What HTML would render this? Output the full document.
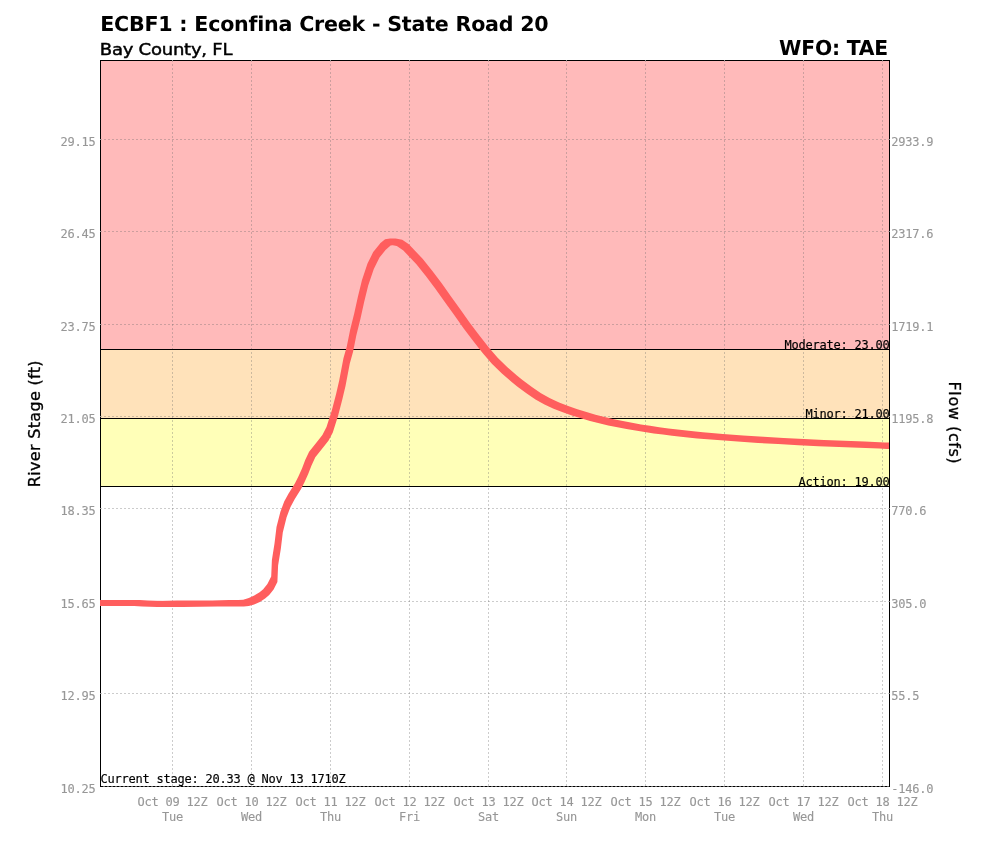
<!DOCTYPE html>
<html lang="en"><head><meta charset="utf-8"><title>ECBF1 : Econfina Creek - State Road 20</title>
<style>
html,body{margin:0;padding:0;background:#fff;}
body{width:989px;height:846px;overflow:hidden;position:relative;}
svg{display:block;position:absolute;left:0;top:0;}
text{font-family:"DejaVu Sans Mono","Liberation Mono",monospace;font-size:12px;letter-spacing:-0.225px;}
.t{font-family:"DejaVu Sans","Liberation Sans",sans-serif;font-weight:bold;font-size:20.5px;fill:#000;text-rendering:geometricPrecision;}
.s{font-family:"DejaVu Sans","Liberation Sans",sans-serif;font-size:16px;fill:#000;stroke:#000;stroke-width:0.45px;}
.r{font-family:"DejaVu Sans","Liberation Sans",sans-serif;font-size:16px;fill:#000;stroke:#000;stroke-width:0.3px;}
.a{fill:#979797;stroke:#979797;stroke-width:0.12px;}
.k{fill:#000;stroke:#000;stroke-width:0.15px;}
.g{stroke:rgba(105,105,105,0.34);stroke-width:1;stroke-dasharray:2 2;fill:none;shape-rendering:crispEdges;}
.b{stroke:#000;stroke-width:1;fill:none;shape-rendering:crispEdges;}
</style></head><body>
<svg width="989" height="846" viewBox="0 0 989 846">
<rect x="0" y="0" width="989" height="846" fill="#fff"/>
<rect x="101" y="61" width="788" height="288" fill="#ffbaba"/>
<rect x="101" y="349" width="788" height="69" fill="#ffe2ba"/>
<rect x="101" y="418" width="788" height="68" fill="#ffffb8"/>
<rect class="b" x="100.5" y="60.5" width="789" height="726"/>
<line class="g" x1="103" y1="786.5" x2="889" y2="786.5"/>
<line class="g" x1="100" y1="693.5" x2="889" y2="693.5"/>
<line class="g" x1="100" y1="601.5" x2="889" y2="601.5"/>
<line class="g" x1="100" y1="508.5" x2="889" y2="508.5"/>
<line class="g" x1="100" y1="416.5" x2="889" y2="416.5"/>
<line class="g" x1="100" y1="324.5" x2="889" y2="324.5"/>
<line class="g" x1="100" y1="231.5" x2="889" y2="231.5"/>
<line class="g" x1="100" y1="139.5" x2="889" y2="139.5"/>
<line class="g" x1="172.5" y1="60" x2="172.5" y2="786"/>
<line class="g" x1="251.5" y1="60" x2="251.5" y2="786"/>
<line class="g" x1="330.5" y1="60" x2="330.5" y2="786"/>
<line class="g" x1="409.5" y1="60" x2="409.5" y2="786"/>
<line class="g" x1="488.5" y1="60" x2="488.5" y2="786"/>
<line class="g" x1="566.5" y1="60" x2="566.5" y2="786"/>
<line class="g" x1="645.5" y1="60" x2="645.5" y2="786"/>
<line class="g" x1="724.5" y1="60" x2="724.5" y2="786"/>
<line class="g" x1="803.5" y1="60" x2="803.5" y2="786"/>
<line class="g" x1="882.5" y1="60" x2="882.5" y2="786"/>
<line x1="103" y1="786.5" x2="889" y2="786.5" stroke="rgba(255,255,255,0.3)" stroke-width="1" stroke-dasharray="2 2" shape-rendering="crispEdges"/>
<path d="M172,60h1v1h-1zM251,60h1v1h-1zM330,60h1v1h-1zM409,60h1v1h-1zM488,60h1v1h-1zM566,60h1v1h-1zM645,60h1v1h-1zM724,60h1v1h-1zM803,60h1v1h-1zM882,60h1v1h-1zM100,693h1v1h-1zM889,693h1v1h-1zM100,601h1v1h-1zM889,601h1v1h-1zM100,508h1v1h-1zM889,508h1v1h-1zM100,416h1v1h-1zM889,416h1v1h-1zM100,324h1v1h-1zM889,324h1v1h-1zM100,231h1v1h-1zM889,231h1v1h-1zM100,139h1v1h-1zM889,139h1v1h-1z" fill="rgba(255,255,255,0.5)" shape-rendering="crispEdges"/>
<line class="b" x1="100" y1="349.5" x2="890" y2="349.5"/>
<line class="b" x1="100" y1="418.5" x2="890" y2="418.5"/>
<line class="b" x1="100" y1="486.5" x2="890" y2="486.5"/>
<text class="k" x="889.5" y="349" text-anchor="end">Moderate: 23.00</text>
<text class="k" x="889.5" y="418" text-anchor="end">Minor: 21.00</text>
<text class="k" x="889.5" y="486" text-anchor="end">Action: 19.00</text>
<clipPath id="cp"><rect x="100" y="60" width="789" height="727"/></clipPath>
<g clip-path="url(#cp)"><path fill="#ff5e5e" d="M96.8,600.2 97.2,599.9 139.8,599.9 140.2,600.2 140.2,605.8 139.8,606.1 97.2,606.1 96.8,605.8ZM133.8,600.2 134.2,599.9 139.8,599.9 147.8,600.4 148.2,600.8 148.2,606.2 147.8,606.6 142.2,606.6 134.2,606.1 133.8,605.8ZM141.8,600.8 142.2,600.4 147.8,600.4 162.8,600.9 163.2,601.2 163.2,606.8 162.8,607.1 157.2,607.1 142.2,606.6 141.8,606.2ZM156.8,601.2 157.2,600.9 177.2,600.6 182.8,600.6 183.2,601.0 183.2,606.5 182.8,606.9 162.8,607.1 157.2,607.1 156.8,606.8ZM176.8,601.0 177.2,600.6 212.2,600.4 217.8,600.4 218.2,600.8 218.2,606.2 217.8,606.6 182.8,606.9 177.2,606.9 176.8,606.5ZM211.8,600.8 212.2,600.4 229.2,600.1 234.8,600.1 235.2,600.5 235.2,606.0 234.8,606.4 217.8,606.6 212.2,606.6 211.8,606.2ZM228.8,600.5 229.2,600.1 243.8,600.1 244.2,600.5 244.2,606.0 243.8,606.4 229.2,606.4 228.8,606.0ZM237.8,600.5 238.2,600.1 243.2,599.8 248.8,599.8 249.2,600.1 249.2,605.6 248.8,606.0 243.8,606.4 238.2,606.4 237.8,606.0ZM242.8,600.1 243.2,599.8 248.8,598.1 254.2,598.1 254.7,598.5 254.7,604.0 254.2,604.4 248.8,606.0 243.2,606.0 242.8,605.6ZM248.3,598.5 248.8,598.1 254.2,595.6 259.8,595.6 260.1,596.0 260.1,601.5 259.8,601.9 254.2,604.4 248.8,604.4 248.3,604.0ZM253.8,596.0 254.2,595.6 259.6,592.2 265.1,592.2 265.4,592.6 265.4,598.1 265.1,598.5 259.8,601.9 254.2,601.9 253.8,601.5ZM259.2,592.6 259.6,592.2 263.8,588.8 269.2,588.8 269.6,589.1 269.6,594.6 269.2,595.0 265.1,598.5 259.6,598.5 259.2,598.1ZM263.4,589.1 267.4,584.0 267.8,583.6 273.2,583.6 273.6,584.0 273.6,589.5 269.6,594.6 269.2,595.0 263.8,595.0 263.4,594.6ZM267.4,584.0 271.2,576.5 271.6,576.1 277.1,576.1 277.4,576.5 277.4,582.0 273.6,589.5 273.2,589.9 267.8,589.9 267.4,589.5ZM271.2,576.5 271.9,560.0 272.2,559.6 277.8,559.6 278.1,560.0 278.1,565.5 277.4,582.0 277.1,582.4 271.6,582.4 271.2,582.0ZM271.9,560.0 274.5,543.5 274.9,543.1 280.4,543.1 280.8,543.5 280.8,549.0 278.1,565.5 277.8,565.9 272.2,565.9 271.9,565.5ZM274.5,543.5 276.5,527.0 276.9,526.6 282.4,526.6 282.8,527.0 282.8,532.5 280.8,549.0 280.4,549.4 274.9,549.4 274.5,549.0ZM276.5,527.0 280.4,511.8 280.8,511.4 286.2,511.4 286.6,511.8 286.6,517.2 282.8,532.5 282.4,532.9 276.9,532.9 276.5,532.5ZM280.4,511.8 284.2,501.4 284.6,501.1 290.1,501.1 290.5,501.4 290.5,506.9 286.6,517.2 286.2,517.6 280.8,517.6 280.4,517.2ZM284.2,501.4 288.6,493.4 288.9,493.1 294.4,493.1 294.8,493.4 294.8,498.9 290.5,506.9 290.1,507.3 284.6,507.3 284.2,506.9ZM288.6,493.4 295.0,483.2 295.4,482.9 300.9,482.9 301.2,483.2 301.2,488.8 294.8,498.9 294.4,499.3 288.9,499.3 288.6,498.9ZM295.0,483.2 298.4,476.6 298.8,476.2 304.2,476.2 304.6,476.6 304.6,482.1 301.2,488.8 300.9,489.1 295.4,489.1 295.0,488.8ZM298.4,476.6 302.0,468.4 302.4,468.0 307.9,468.0 308.2,468.4 308.2,473.9 304.6,482.1 304.2,482.4 298.8,482.4 298.4,482.1ZM302.0,468.4 305.2,460.1 305.6,459.7 311.1,459.7 311.5,460.1 311.5,465.6 308.2,473.9 307.9,474.2 302.4,474.2 302.0,473.9ZM305.2,460.1 309.1,451.8 309.4,451.4 314.9,451.4 315.3,451.8 315.3,457.2 311.5,465.6 311.1,465.9 305.6,465.9 305.2,465.6ZM309.1,451.8 315.7,443.4 316.1,443.1 321.6,443.1 321.9,443.4 321.9,448.9 315.3,457.2 314.9,457.6 309.4,457.6 309.1,457.2ZM315.7,443.4 322.4,435.1 322.8,434.8 328.2,434.8 328.6,435.1 328.6,440.6 321.9,448.9 321.6,449.3 316.1,449.3 315.7,448.9ZM322.4,435.1 326.5,426.9 326.9,426.6 332.4,426.6 332.8,426.9 332.8,432.4 328.6,440.6 328.2,441.0 322.8,441.0 322.4,440.6ZM326.5,426.9 331.8,410.4 332.1,410.0 337.6,410.0 338.0,410.4 338.0,415.9 332.8,432.4 332.4,432.8 326.9,432.8 326.5,432.4ZM331.8,410.4 336.1,393.9 336.4,393.5 341.9,393.5 342.3,393.9 342.3,399.4 338.0,415.9 337.6,416.2 332.1,416.2 331.8,415.9ZM336.1,393.9 339.2,380.6 339.6,380.2 345.1,380.2 345.5,380.6 345.5,386.1 342.3,399.4 341.9,399.8 336.4,399.8 336.1,399.4ZM339.2,380.6 343.5,358.1 343.9,357.7 349.4,357.7 349.8,358.1 349.8,363.6 345.5,386.1 345.1,386.4 339.6,386.4 339.2,386.1ZM343.5,358.1 346.8,346.4 347.1,346.1 352.6,346.1 353.0,346.4 353.0,351.9 349.8,363.6 349.4,363.9 343.9,363.9 343.5,363.6ZM346.8,346.4 350.1,329.9 350.4,329.5 355.9,329.5 356.3,329.9 356.3,335.4 353.0,351.9 352.6,352.3 347.1,352.3 346.8,351.9ZM350.1,329.9 354.2,313.4 354.6,313.0 360.1,313.0 360.4,313.4 360.4,318.9 356.3,335.4 355.9,335.8 350.4,335.8 350.1,335.4ZM354.2,313.4 357.9,296.8 358.2,296.4 363.8,296.4 364.1,296.8 364.1,302.2 360.4,318.9 360.1,319.2 354.6,319.2 354.2,318.9ZM357.9,296.8 362.0,280.1 362.4,279.8 367.9,279.8 368.2,280.1 368.2,285.6 364.1,302.2 363.8,302.6 358.2,302.6 357.9,302.2ZM362.0,280.1 367.5,263.6 367.9,263.2 373.4,263.2 373.8,263.6 373.8,269.1 368.2,285.6 367.9,286.0 362.4,286.0 362.0,285.6ZM367.5,263.6 373.2,252.1 373.6,251.7 379.1,251.7 379.5,252.1 379.5,257.6 373.8,269.1 373.4,269.5 367.9,269.5 367.5,269.1ZM373.2,252.1 379.9,243.8 380.2,243.3 385.8,243.3 386.1,243.8 386.1,249.2 379.5,257.6 379.1,257.9 373.6,257.9 373.2,257.6ZM379.9,243.8 380.2,243.3 385.1,239.2 390.6,239.2 391.0,239.7 391.0,245.2 390.6,245.6 385.8,249.7 380.2,249.7 379.9,249.2ZM384.8,239.7 385.1,239.2 390.1,238.4 395.6,238.4 396.0,238.8 396.0,244.3 395.6,244.8 390.6,245.6 385.1,245.6 384.8,245.2ZM389.8,238.8 390.1,238.4 395.6,238.4 402.2,239.8 402.6,240.2 402.6,245.7 402.2,246.1 396.8,246.1 390.1,244.8 389.8,244.3ZM396.4,240.2 396.8,239.8 402.2,239.8 408.9,244.2 409.3,244.7 409.3,250.2 408.9,250.6 403.4,250.6 396.8,246.1 396.4,245.7ZM403.1,244.7 403.4,244.2 408.9,244.2 409.3,244.7 413.1,248.7 413.1,254.2 412.8,254.6 407.2,254.6 406.9,254.2 403.1,250.2ZM406.9,248.7 407.2,248.2 412.8,248.2 413.1,248.7 422.6,258.8 422.6,264.2 422.2,264.6 416.8,264.6 416.4,264.2 406.9,254.2ZM416.4,258.8 416.8,258.4 422.2,258.4 422.6,258.8 432.0,270.4 432.0,275.9 431.6,276.2 426.1,276.2 425.8,275.9 416.4,264.2ZM425.8,270.4 426.1,270.0 431.6,270.0 432.0,270.4 441.5,283.1 441.5,288.6 441.1,288.9 435.6,288.9 435.2,288.6 425.8,275.9ZM435.2,283.1 435.6,282.7 441.1,282.7 441.5,283.1 451.0,296.4 451.0,301.9 450.6,302.2 445.1,302.2 444.8,301.9 435.2,288.6ZM444.8,296.4 445.1,296.0 450.6,296.0 451.0,296.4 460.4,309.6 460.4,315.1 460.1,315.5 454.6,315.5 454.2,315.1 444.8,301.9ZM454.2,309.6 454.6,309.2 460.1,309.2 460.4,309.6 469.9,322.9 469.9,328.4 469.6,328.8 464.1,328.8 463.7,328.4 454.2,315.1ZM463.7,322.9 464.1,322.6 469.6,322.6 469.9,322.9 479.4,335.6 479.4,341.1 479.1,341.5 473.6,341.5 473.2,341.1 463.7,328.4ZM473.2,335.6 473.6,335.2 479.1,335.2 479.4,335.6 488.8,347.4 488.8,352.9 488.4,353.3 482.9,353.3 482.6,352.9 473.2,341.1ZM482.6,347.4 482.9,347.1 488.4,347.1 488.8,347.4 498.3,358.4 498.3,363.9 497.9,364.2 492.4,364.2 492.1,363.9 482.6,352.9ZM492.1,358.4 492.4,358.0 497.9,358.0 507.4,367.2 507.8,367.6 507.8,373.1 507.4,373.5 501.9,373.5 492.4,364.2 492.1,363.9ZM501.5,367.6 501.9,367.2 507.4,367.2 516.9,375.6 517.2,375.9 517.2,381.4 516.9,381.8 511.4,381.8 501.9,373.5 501.5,373.1ZM511.0,375.9 511.4,375.6 516.9,375.6 522.8,380.2 523.1,380.6 523.1,386.1 522.8,386.5 517.2,386.5 511.4,381.8 511.0,381.4ZM516.9,380.6 517.2,380.2 522.8,380.2 531.9,387.1 532.2,387.4 532.2,392.9 531.9,393.3 526.4,393.3 517.2,386.5 516.9,386.1ZM526.0,387.4 526.4,387.1 531.9,387.1 541.0,393.2 541.4,393.6 541.4,399.1 541.0,399.4 535.5,399.4 526.4,393.3 526.0,392.9ZM535.1,393.6 535.5,393.2 541.0,393.2 550.0,398.2 550.4,398.6 550.4,404.1 550.0,404.5 544.5,404.5 535.5,399.4 535.1,399.1ZM544.1,398.6 544.5,398.2 550.0,398.2 559.1,402.5 559.5,402.9 559.5,408.4 559.1,408.8 553.6,408.8 544.5,404.5 544.1,404.1ZM553.2,402.9 553.6,402.5 559.1,402.5 568.2,406.0 568.6,406.4 568.6,411.9 568.2,412.2 562.8,412.2 553.6,408.8 553.2,408.4ZM562.4,406.4 562.8,406.0 568.2,406.0 577.4,409.2 577.8,409.6 577.8,415.1 577.4,415.4 571.9,415.4 562.8,412.2 562.4,411.9ZM571.5,409.6 571.9,409.2 577.4,409.2 586.5,412.0 586.9,412.4 586.9,417.9 586.5,418.2 581.0,418.2 571.9,415.4 571.5,415.1ZM580.6,412.4 581.0,412.0 586.5,412.0 595.5,414.7 595.9,415.1 595.9,420.6 595.5,420.9 590.0,420.9 581.0,418.2 580.6,417.9ZM589.6,415.1 590.0,414.7 595.5,414.7 604.6,417.1 605.0,417.4 605.0,422.9 604.6,423.3 599.1,423.3 590.0,420.9 589.6,420.6ZM598.8,417.4 599.1,417.1 604.6,417.1 613.8,419.2 614.1,419.6 614.1,425.1 613.8,425.4 608.2,425.4 599.1,423.3 598.8,422.9ZM607.9,419.6 608.2,419.2 613.8,419.2 622.9,421.1 623.2,421.4 623.2,426.9 622.9,427.3 617.4,427.3 608.2,425.4 607.9,425.1ZM617.0,421.4 617.4,421.1 622.9,421.1 632.0,422.8 632.4,423.1 632.4,428.6 632.0,429.0 626.5,429.0 617.4,427.3 617.0,426.9ZM626.1,423.1 626.5,422.8 632.0,422.8 641.0,424.4 641.4,424.8 641.4,430.2 641.0,430.6 635.5,430.6 626.5,429.0 626.1,428.6ZM635.1,424.8 635.5,424.4 641.0,424.4 650.1,425.8 650.5,426.1 650.5,431.6 650.1,432.0 644.6,432.0 635.5,430.6 635.1,430.2ZM644.2,426.1 644.6,425.8 650.1,425.8 659.2,427.2 659.6,427.6 659.6,433.1 659.2,433.4 653.8,433.4 644.6,432.0 644.2,431.6ZM653.4,427.6 653.8,427.2 659.2,427.2 668.4,428.4 668.8,428.8 668.8,434.2 668.4,434.6 662.9,434.6 653.8,433.4 653.4,433.1ZM662.5,428.8 662.9,428.4 668.4,428.4 677.5,429.5 677.9,429.9 677.9,435.4 677.5,435.8 672.0,435.8 662.9,434.6 662.5,434.2ZM671.6,429.9 672.0,429.5 677.5,429.5 686.5,430.6 686.9,430.9 686.9,436.4 686.5,436.8 681.0,436.8 672.0,435.8 671.6,435.4ZM680.6,430.9 681.0,430.6 686.5,430.6 695.6,431.5 696.0,431.9 696.0,437.4 695.6,437.8 690.1,437.8 681.0,436.8 680.6,436.4ZM689.8,431.9 690.1,431.5 695.6,431.5 702.8,432.2 703.1,432.6 703.1,438.1 702.8,438.4 697.2,438.4 690.1,437.8 689.8,437.4ZM696.9,432.6 697.2,432.2 702.8,432.2 723.0,433.9 723.4,434.2 723.4,439.8 723.0,440.1 717.5,440.1 697.2,438.4 696.9,438.1ZM717.1,434.2 717.5,433.9 723.0,433.9 743.1,435.4 743.5,435.8 743.5,441.2 743.1,441.6 737.6,441.6 717.5,440.1 717.1,439.8ZM737.2,435.8 737.6,435.4 743.1,435.4 763.5,436.7 763.9,437.1 763.9,442.6 763.5,442.9 758.0,442.9 737.6,441.6 737.2,441.2ZM757.6,437.1 758.0,436.7 763.5,436.7 783.6,437.9 784.0,438.2 784.0,443.8 783.6,444.1 778.1,444.1 758.0,442.9 757.6,442.6ZM777.8,438.2 778.1,437.9 783.6,437.9 803.9,439.0 804.2,439.4 804.2,444.9 803.9,445.2 798.4,445.2 778.1,444.1 777.8,443.8ZM798.0,439.4 798.4,439.0 803.9,439.0 824.0,440.0 824.4,440.4 824.4,445.9 824.0,446.2 818.5,446.2 798.4,445.2 798.0,444.9ZM818.1,440.4 818.5,440.0 824.0,440.0 844.4,440.8 844.8,441.1 844.8,446.6 844.4,447.0 838.9,447.0 818.5,446.2 818.1,445.9ZM838.5,441.1 838.9,440.8 844.4,440.8 864.5,441.6 864.9,441.9 864.9,447.4 864.5,447.8 859.0,447.8 838.9,447.0 838.5,446.6ZM858.6,441.9 859.0,441.6 864.5,441.6 884.8,442.4 885.1,442.8 885.1,448.2 884.8,448.6 879.2,448.6 859.0,447.8 858.6,447.4ZM878.9,442.8 879.2,442.4 884.8,442.4 892.8,442.7 893.1,443.1 893.1,448.6 892.8,448.9 887.2,448.9 879.2,448.6 878.9,448.2Z"/></g>
<text class="k" x="100.4" y="783">Current stage: 20.33 @ Nov 13 1710Z</text>
<text class="t" x="100.2" y="31" textLength="448.3" lengthAdjust="spacingAndGlyphs">ECBF1 : Econfina Creek - State Road 20</text>
<text class="s" x="99.8" y="55" textLength="132.4" lengthAdjust="spacingAndGlyphs">Bay County, FL</text>
<text class="t" x="779.1" y="55" textLength="108.9" lengthAdjust="spacingAndGlyphs">WFO: TAE</text>
<text class="a" x="95.5" y="793" text-anchor="end">10.25</text>
<text class="a" x="891.2" y="793">-146.0</text>
<text class="a" x="95.5" y="700" text-anchor="end">12.95</text>
<text class="a" x="891.2" y="700">55.5</text>
<text class="a" x="95.5" y="608" text-anchor="end">15.65</text>
<text class="a" x="891.2" y="608">305.0</text>
<text class="a" x="95.5" y="515" text-anchor="end">18.35</text>
<text class="a" x="891.2" y="515">770.6</text>
<text class="a" x="95.5" y="423" text-anchor="end">21.05</text>
<text class="a" x="891.2" y="423">1195.8</text>
<text class="a" x="95.5" y="331" text-anchor="end">23.75</text>
<text class="a" x="891.2" y="331">1719.1</text>
<text class="a" x="95.5" y="238" text-anchor="end">26.45</text>
<text class="a" x="891.2" y="238">2317.6</text>
<text class="a" x="95.5" y="146" text-anchor="end">29.15</text>
<text class="a" x="891.2" y="146">2933.9</text>
<text class="a" x="172.5" y="806" text-anchor="middle">Oct 09 12Z</text>
<text class="a" x="172.5" y="821" text-anchor="middle">Tue</text>
<text class="a" x="251.5" y="806" text-anchor="middle">Oct 10 12Z</text>
<text class="a" x="251.5" y="821" text-anchor="middle">Wed</text>
<text class="a" x="330.5" y="806" text-anchor="middle">Oct 11 12Z</text>
<text class="a" x="330.5" y="821" text-anchor="middle">Thu</text>
<text class="a" x="409.5" y="806" text-anchor="middle">Oct 12 12Z</text>
<text class="a" x="409.5" y="821" text-anchor="middle">Fri</text>
<text class="a" x="488.5" y="806" text-anchor="middle">Oct 13 12Z</text>
<text class="a" x="488.5" y="821" text-anchor="middle">Sat</text>
<text class="a" x="566.5" y="806" text-anchor="middle">Oct 14 12Z</text>
<text class="a" x="566.5" y="821" text-anchor="middle">Sun</text>
<text class="a" x="645.5" y="806" text-anchor="middle">Oct 15 12Z</text>
<text class="a" x="645.5" y="821" text-anchor="middle">Mon</text>
<text class="a" x="724.5" y="806" text-anchor="middle">Oct 16 12Z</text>
<text class="a" x="724.5" y="821" text-anchor="middle">Tue</text>
<text class="a" x="803.5" y="806" text-anchor="middle">Oct 17 12Z</text>
<text class="a" x="803.5" y="821" text-anchor="middle">Wed</text>
<text class="a" x="882.5" y="806" text-anchor="middle">Oct 18 12Z</text>
<text class="a" x="882.5" y="821" text-anchor="middle">Thu</text>
<text class="r" transform="translate(40.2,487.2) rotate(-90)" textLength="126.6">River Stage (ft)</text>
<text class="r" transform="translate(949,381.6) rotate(90)" textLength="81.8">Flow (cfs)</text>
</svg></body></html>
